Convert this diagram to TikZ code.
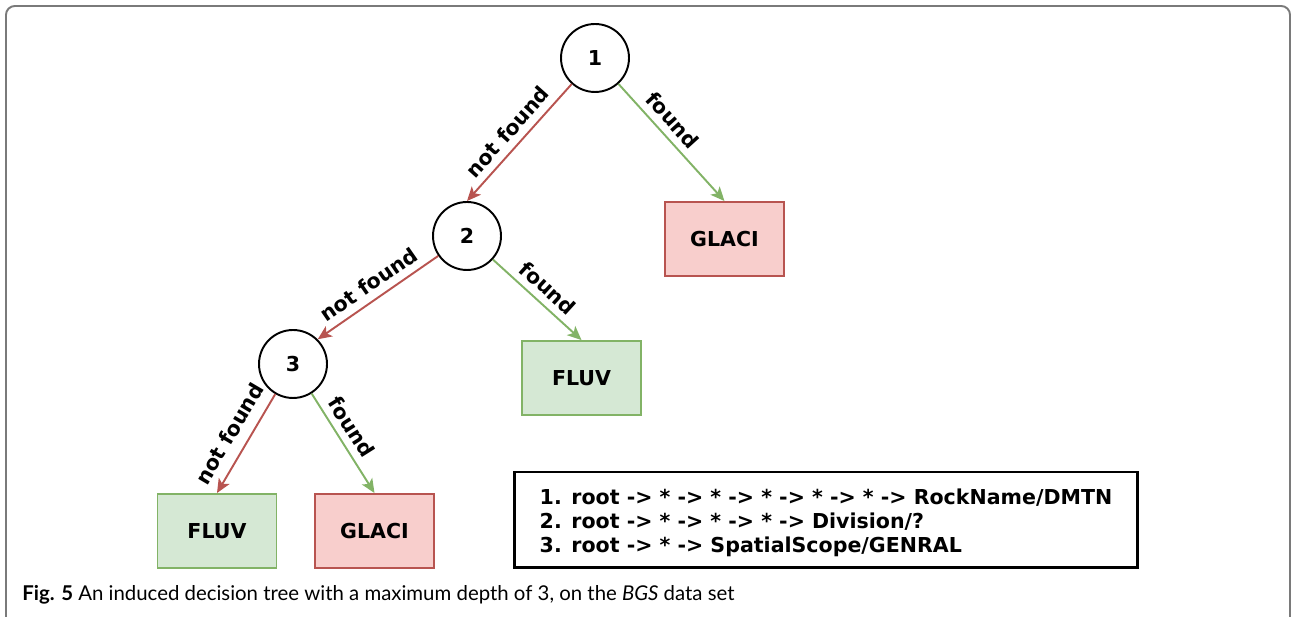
\documentclass[tikz,border=0pt]{standalone}
\usepackage{fontspec}
\setmainfont{DejaVu Sans}
\newfontfamily\capfont{Lato}
\usetikzlibrary{arrows.meta}

\definecolor{redline}{HTML}{B85450}
\definecolor{redfill}{HTML}{F8CECC}
\definecolor{greenline}{HTML}{82B366}
\definecolor{greenfill}{HTML}{D5E8D4}
\definecolor{framegray}{HTML}{7A7A7A}

\begin{document}
\begin{tikzpicture}[
  x=0.02cm, y=-0.02cm,
  font=\fontsize{11.7}{13.6}\selectfont\bfseries,
  test/.style={draw, circle, line width=1.1pt, minimum size=1.36cm, inner sep=0pt},
  leaf/.style={draw, line width=1.1pt, minimum width=2.38cm, minimum height=1.48cm, inner sep=0pt},
  glaci/.style={leaf, draw=redline, fill=redfill},
  fluv/.style={leaf, draw=greenline, fill=greenfill},
  nf/.style={draw=redline, line width=1.1pt, -{Stealth[length=8pt, width=7pt, inset=2pt]}},
  fd/.style={draw=greenline, line width=1.1pt, -{Stealth[length=8pt, width=7pt, inset=2pt]}},
  lbl/.style={sloped, above, inner sep=4pt}
]
\useasboundingbox (0,0) rectangle (1292,617);
\draw[framegray, line width=1.1pt, rounded corners=5pt] (6,640) |- (1290,6) -- (1290,640);

\node[test] (t1) at (595,58) {1};
\node[test] (t2) at (467,236) {2};
\node[test] (t3) at (293,364) {3};

\node[glaci] (g1) at (724.5,239) {GLACI};
\node[fluv] (f2) at (581.5,378) {FLUV};
\node[fluv] (f3) at (217,531) {FLUV};
\node[glaci] (g3) at (374.5,531) {GLACI};

\draw[nf] (t1) -- node[lbl] {not found} (t2.north);
\draw[fd] (t1) -- node[lbl, pos=0.4] {found} (g1.north);
\draw[nf] (t2) -- node[lbl] {not found} (t3.north east);
\draw[fd] (t2) -- node[lbl] {found} (f2.north);
\draw[nf] (t3) -- node[lbl, inner sep=6pt] {not found} (f3.north);
\draw[fd] (t3) -- node[lbl, pos=0.42] {found} (g3.north);

\node[draw, line width=1.7pt, minimum width=12.48cm, minimum height=1.92cm, align=left] (key) at (826,520)
  {\rule{0pt}{12pt}1. root -> * -> * -> * -> * -> * -> RockName/DMTN\\
   2. root -> * -> * -> * -> Division/?\\
   3. root -> * -> SpatialScope/GENRAL};

\node[anchor=base west, inner sep=0pt, font=\capfont\fontsize{11.6}{12}\selectfont] (cap) at (22,601)
  {\textbf{Fig. 5} An induced decision tree with a maximum depth of 3, on the \textit{BGS} data set};
\end{tikzpicture}
\end{document}
